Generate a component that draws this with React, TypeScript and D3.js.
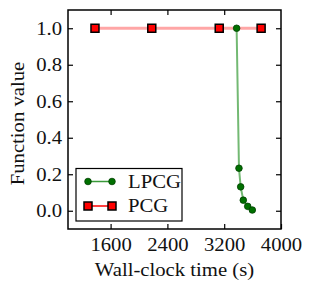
import { useEffect, useRef } from "react";
import * as d3 from "d3";

// PCG run: flat at 1.0
const pcgTime = [1380, 2180, 3130, 3720];
const pcgValue = [1.0, 1.0, 1.0, 1.0];

// LPCG run: drops after ~3400 s
const lpcgTime = [3375, 3408, 3432, 3469, 3531, 3596];
const lpcgValue = [1.0, 0.233, 0.131, 0.058, 0.024, 0.004];

const xTicks = [1600, 2400, 3200, 4000];
const yTicks = [0.0, 0.2, 0.4, 0.6, 0.8, 1.0];

const W = 312;
const H = 291;
const margin = { top: 10, right: 31, bottom: 62, left: 68 };
const font = "'Liberation Serif', 'DejaVu Serif', serif";
const stretch = 1.15; // reference text is a bit wider than Times metrics

const App = () => {
  const ref = useRef<SVGSVGElement>(null);

  useEffect(() => {
    const svg = d3.select(ref.current);
    svg.selectAll("*").remove();

    const x = d3.scaleLinear().domain([1000, 4000]).range([margin.left, W - margin.right]);
    const y = d3.scaleLinear().domain([-0.1, 1.1]).range([H - margin.bottom, margin.top]);

    const pcg = pcgTime.map((t, i) => [t, pcgValue[i]] as [number, number]);
    const lpcg = lpcgTime.map((t, i) => [t, lpcgValue[i]] as [number, number]);
    const line = d3
      .line<[number, number]>()
      .x((d) => x(d[0]))
      .y((d) => y(d[1]));

    // PCG
    svg.append("path").attr("d", line(pcg)).attr("fill", "none").attr("stroke", "#ff0000").attr("stroke-opacity", 0.35).attr("stroke-width", 3);
    svg
      .selectAll(".pcg")
      .data(pcg)
      .join("rect")
      .attr("x", (d) => x(d[0]) - 4)
      .attr("y", (d) => y(d[1]) - 4)
      .attr("width", 8)
      .attr("height", 8)
      .attr("fill", "#ff0000")
      .attr("stroke", "#000")
      .attr("stroke-width", 1.5);

    // LPCG
    svg.append("path").attr("d", line(lpcg)).attr("fill", "none").attr("stroke", "#008000").attr("stroke-opacity", 0.55).attr("stroke-width", 2);
    svg
      .selectAll(".lpcg")
      .data(lpcg)
      .join("circle")
      .attr("cx", (d) => x(d[0]))
      .attr("cy", (d) => y(d[1]))
      .attr("r", 3.3)
      .attr("fill", "#007000")
      .attr("stroke", "#004000")
      .attr("stroke-width", 0.8);

    // frame
    svg
      .append("rect")
      .attr("x", margin.left)
      .attr("y", margin.top)
      .attr("width", W - margin.left - margin.right)
      .attr("height", H - margin.top - margin.bottom)
      .attr("fill", "none")
      .attr("stroke", "#000")
      .attr("stroke-width", 1.5);

    const styleAxis = (g: any) => {
      g.select(".domain").remove();
      g.selectAll(".tick line").attr("stroke", "#000").attr("stroke-width", 1.2);
      g.selectAll(".tick text").attr("font-family", font).attr("font-size", 18).attr("fill", "#111");
    };

    svg
      .append("g")
      .attr("transform", `translate(0,${H - margin.bottom})`)
      .call(d3.axisBottom(x).tickValues(xTicks).tickSizeInner(-5).tickSizeOuter(0).tickPadding(9).tickFormat(d3.format("d")))
      .call(styleAxis);
    svg
      .append("g")
      .attr("transform", `translate(0,${margin.top})`)
      .call(d3.axisTop(x).tickValues(xTicks.slice(0, 3)).tickSizeInner(-5).tickSizeOuter(0).tickFormat(() => ""))
      .call(styleAxis);
    svg
      .append("g")
      .attr("transform", `translate(${margin.left},0)`)
      .call(d3.axisLeft(y).tickValues(yTicks).tickSizeInner(-5).tickSizeOuter(0).tickPadding(6).tickFormat(d3.format(".1f")))
      .call(styleAxis);
    svg
      .append("g")
      .attr("transform", `translate(${W - margin.right},0)`)
      .call(d3.axisRight(y).tickValues(yTicks).tickSizeInner(-5).tickSizeOuter(0).tickFormat(() => ""))
      .call(styleAxis);

    // axis titles
    svg
      .append("text")
      .attr("x", (margin.left + W - margin.right) / 2)
      .attr("y", 276)
      .attr("text-anchor", "middle")
      .attr("font-family", font)
      .attr("font-size", 18)
      .attr("fill", "#111")
      .text("Wall-clock time (s)");
    svg
      .append("text")
      .attr("transform", `translate(24,${(margin.top + H - margin.bottom) / 2 + 4}) rotate(-90)`)
      .attr("text-anchor", "middle")
      .attr("font-family", font)
      .attr("font-size", 18)
      .attr("fill", "#111")
      .text("Function value");

    // legend
    const lg = svg.append("g");
    lg.append("rect").attr("x", 76).attr("y", 168.5).attr("width", 106).attr("height", 52.5).attr("fill", "#fff").attr("stroke", "#000").attr("stroke-width", 1.2);
    const entries = [
      { name: "LPCG", cy: 181.5, kind: "circle" },
      { name: "PCG", cy: 206, kind: "square" },
    ];
    entries.forEach((e) => {
      const color = e.kind === "circle" ? "#3a9a3a" : "#ff0000";
      lg.append("line").attr("x1", 88).attr("x2", 112).attr("y1", e.cy).attr("y2", e.cy).attr("stroke", color).attr("stroke-width", 1.5);
      [88, 112].forEach((cx) => {
        if (e.kind === "circle") {
          lg.append("circle").attr("cx", cx).attr("cy", e.cy).attr("r", 3.3).attr("fill", "#007000").attr("stroke", "#004000").attr("stroke-width", 0.8);
        } else {
          lg.append("rect").attr("x", cx - 4).attr("y", e.cy - 4).attr("width", 8).attr("height", 8).attr("fill", "#ff0000").attr("stroke", "#000").attr("stroke-width", 1.5);
        }
      });
      lg.append("text").attr("x", 128).attr("y", e.cy + 6).attr("font-family", font).attr("font-size", 18).attr("fill", "#111").text(e.name);
    });

    // widen every label to the reference's proportions
    svg.selectAll<SVGTextElement, unknown>("text").each(function () {
      const len = this.getComputedTextLength();
      if (len > 0) {
        d3.select(this).attr("textLength", len * stretch).attr("lengthAdjust", "spacingAndGlyphs");
      }
    });
  }, []);

  return (
    <svg
      ref={ref}
      width={W}
      height={H}
      viewBox={`0 0 ${W} ${H}`}
      style={{ position: "absolute", left: 0, top: 0, background: "#fff" }}
    />
  );
};

export default App;
